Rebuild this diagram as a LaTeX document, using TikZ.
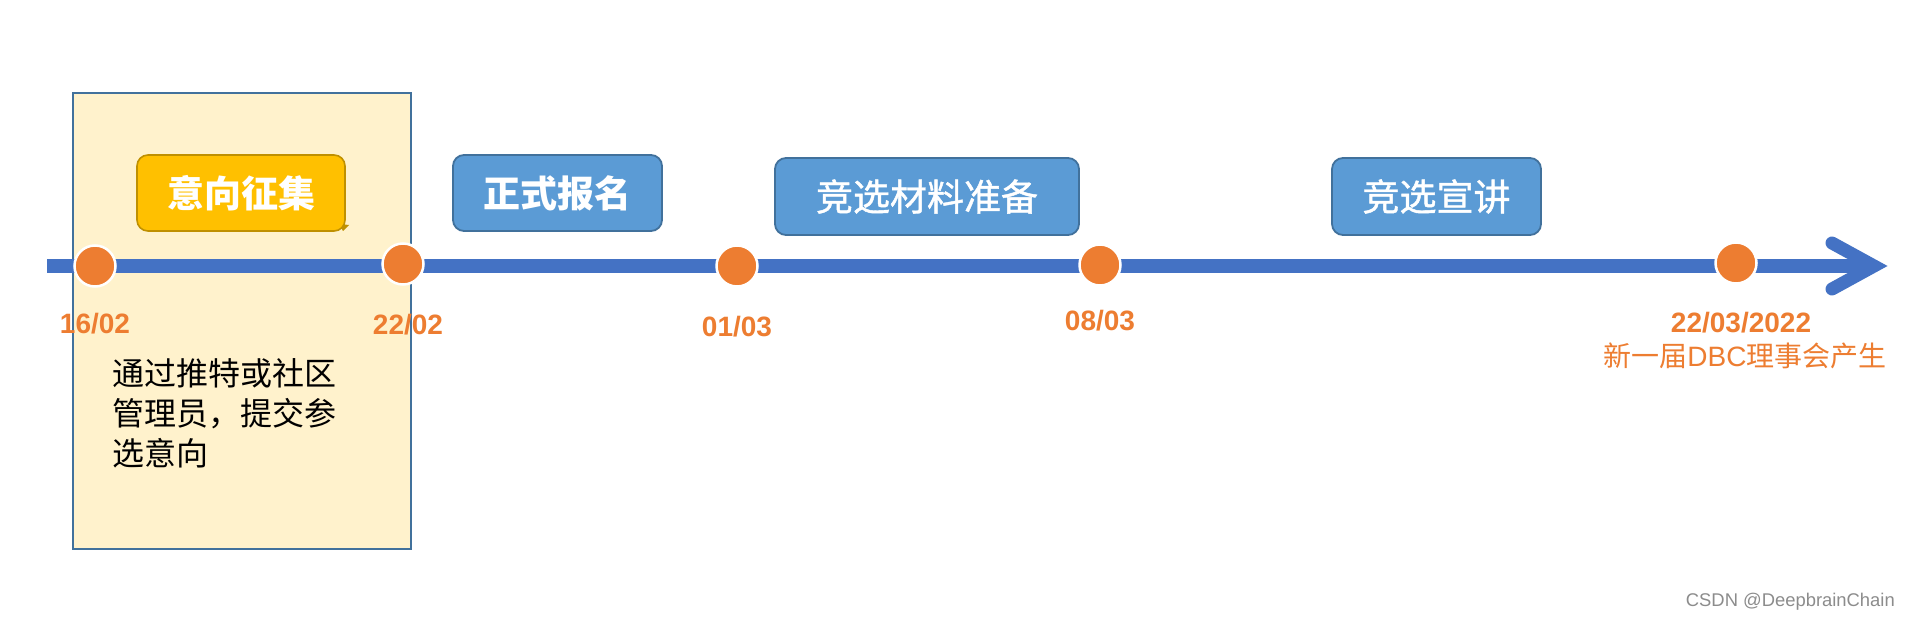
\documentclass[tikz,border=0pt]{standalone}
\usepackage{fontspec}
\setmainfont{Liberation Sans}
\newfontfamily\cjk{Noto Sans CJK SC}
\newfontfamily\cjkmid{Noto Sans CJK SC}[FakeBold=1.2]
\definecolor{tlblue}{HTML}{4472C4}
\definecolor{dotorange}{HTML}{ED7D31}
\definecolor{boxblue}{HTML}{5B9BD5}
\definecolor{boxborder}{HTML}{41719C}
\definecolor{paleyellow}{HTML}{FFF2CC}
\definecolor{gold}{HTML}{FFC000}
\definecolor{goldborder}{HTML}{BF9000}
\begin{document}
\begin{tikzpicture}[x=1pt,y=-1pt,
  phase/.style={draw=boxborder, fill=boxblue, line width=1.8pt, rounded corners=11pt,
    text=white, inner sep=0pt, font=\cjkmid\fontsize{37pt}{42pt}\selectfont},
  dot/.style={circle, fill=dotorange, draw=white, line width=2.5pt, minimum size=41pt, inner sep=0pt},
  datelbl/.style={text=dotorange, inner sep=0pt, font=\bfseries\fontsize{28pt}{32pt}\selectfont},
  tl/.style={draw=tlblue, line width=13pt}]
\useasboundingbox (0,0) rectangle (1910,620);
\fill[white] (0,0) rectangle (1910,620);
% panel
\node[draw=boxborder, fill=paleyellow, line width=1.6pt, minimum width=338pt, minimum height=456pt,
  inner sep=0pt, anchor=north west] (panel) at (72,92) {};
% gold label
\fill[goldborder] (339,224) -- (349,225) -- (343,231) -- cycle;
\node[draw=goldborder, fill=gold, line width=1.6pt, rounded corners=11pt, minimum width=208pt,
  minimum height=76pt, text=white, inner sep=0pt, font=\cjk\bfseries\fontsize{37pt}{42pt}\selectfont]
  (p1) at (241,193) {意向征集};
\node[phase, minimum width=209pt, minimum height=76pt, font=\cjk\bfseries\fontsize{37pt}{42pt}\selectfont]
  (p2) at (557.5,193) {正式报名};
\node[phase, minimum width=304pt, minimum height=77pt] (p3) at (927,196.5) {竞选材料准备};
\node[phase, minimum width=209pt, minimum height=77pt] (p4) at (1436.5,196.5) {竞选宣讲};
% timeline
\coordinate (start) at (47,266);
\coordinate (tip) at (1874,266);
\coordinate (armA) at (1832,243);
\coordinate (armB) at (1832,289);
\draw[tl, line cap=butt] (start) -- (tip);
\draw[tl, line cap=round, line join=miter] (armA) -- (tip) -- (armB);
% dots
\node[dot] (d1) at (95,266) {};
\node[dot] (d2) at (403,264) {};
\node[dot] (d3) at (737,266) {};
\node[dot] (d4) at (1100,265) {};
\node[dot] (d5) at (1736,263) {};
% dates
\node[datelbl] (l1) at (95,324) {16/02};
\node[datelbl] (l2) at (408,325) {22/02};
\node[datelbl] (l3) at (737,327) {01/03};
\node[datelbl] (l4) at (1100,321) {08/03};
\node[datelbl] (l5) at (1741,323) {22/03/2022};
\node[text=dotorange, inner sep=0pt, font=\fontsize{28pt}{32pt}\selectfont] (l6) at (1745,356)
  {{\cjk 新一届}DBC{\cjk 理事会产生}};
% body text
\node[anchor=west, align=left, inner sep=0pt, text=black,
  font=\cjk\fontsize{32pt}{40pt}\selectfont] (body) at (112,413)
  {通过推特或社区\\管理员，提交参\\选意向};
% watermark
\node[anchor=east, inner sep=0pt, text=black!45, font=\fontsize{18.4pt}{22pt}\selectfont] (wm) at (1895,602)
  {CSDN @DeepbrainChain};
\end{tikzpicture}
\end{document}
